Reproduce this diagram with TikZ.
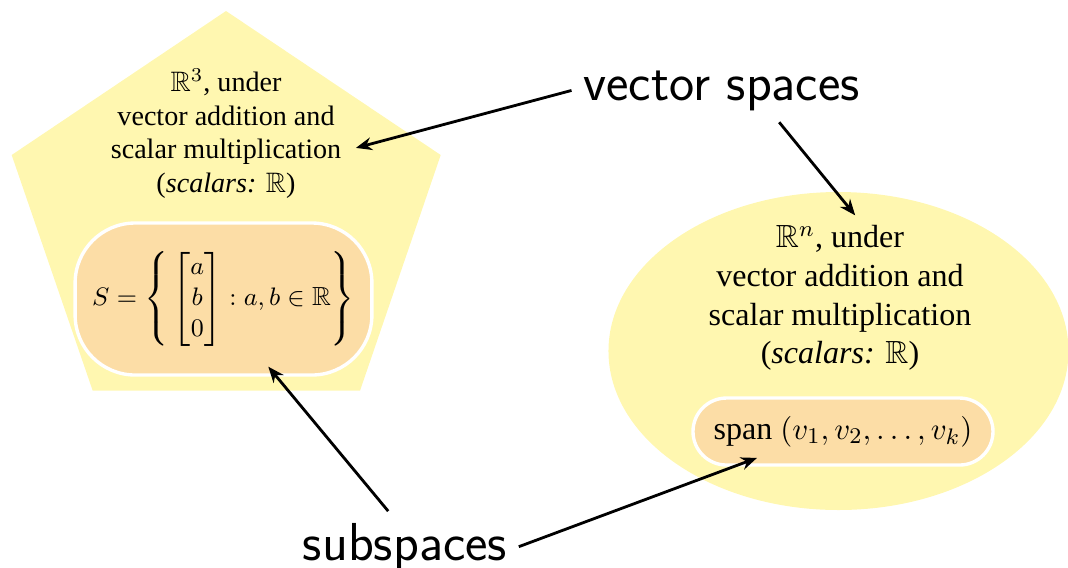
\documentclass[tikz,border=0pt]{standalone}
\usepackage{amsmath,amssymb}
\usepackage{fontspec}
\setmainfont{Liberation Serif}
\usepackage{tikz}
\usetikzlibrary{arrows.meta,positioning,shapes.misc}

\definecolor{spaceyellow}{RGB}{255,247,176}
\definecolor{suborange}{RGB}{252,221,166}

\begin{document}
\begin{tikzpicture}[
  space/.style={fill=spaceyellow},
  subbox/.style={fill=suborange,draw=white,line width=1.2pt},
  callout/.style={font=\fontsize{19pt}{23pt}\selectfont\sffamily,inner sep=4pt},
  pointer/.style={-{Stealth[length=2mm,width=1.6mm]},line width=1pt}
]
  \useasboundingbox (0,0) rectangle (13.35,-7.0875);

  % the two vector spaces
  \fill[space] (2.825,-0.1375) -- (5.509,-1.9375) -- (4.5,-4.884)
    -- (1.159,-4.884) -- (0.146,-1.9375) -- cycle;
  \fill[space] (10.481,-4.3875) ellipse [x radius=2.875cm,y radius=1.9875cm];

  \node[align=center] (pentText) at (2.825,-1.669)
    {$\mathbb{R}^3$, under\\vector addition and\\scalar multiplication\\(\textit{scalars:} $\mathbb{R}$)};
  \node[align=center,font=\fontsize{11.4pt}{13.8pt}\selectfont] (ellText) at (10.5,-3.725)
    {$\mathbb{R}^n$, under\\vector addition and\\scalar multiplication\\(\textit{scalars:} $\mathbb{R}$)};

  % subspaces
  \node[subbox,rounded corners=0.75cm,minimum width=3.71cm,minimum height=1.9cm,
    font=\fontsize{9.3pt}{11pt}\selectfont] (setBox) at (2.794,-3.7375)
    {$S=\left\{\,\begin{bmatrix} a\\ b\\ 0\end{bmatrix} : a,b\in\mathbb{R}\right\}$};
  \node[subbox,rounded rectangle,minimum width=3.75cm,minimum height=0.8375cm,inner sep=0pt,
    font=\fontsize{11.4pt}{13.8pt}\selectfont] (spanBox) at (10.5375,-5.394)
    {span $(v_1,v_2,\ldots,v_k)$};

  \node[callout,anchor=base] (vsLabel) at (9.02,-1.25) {vector spaces};
  \node[callout,anchor=base] (ssLabel) at (5.0625,-7.0) {subspaces};

  \draw[pointer] (vsLabel.west) -- ([xshift=0.06cm,yshift=-0.18cm]pentText.east);
  \draw[pointer] ([xshift=0.72cm]vsLabel.south) -- ([xshift=0.19cm]ellText.north);
  \draw[pointer] ([xshift=-0.21cm]ssLabel.north) -- ([xshift=0.56cm,yshift=0.125cm]setBox.south);
  \draw[pointer] (ssLabel.east) -- ([xshift=-1.075cm,yshift=0.11cm]spanBox.south);
\end{tikzpicture}
\end{document}
